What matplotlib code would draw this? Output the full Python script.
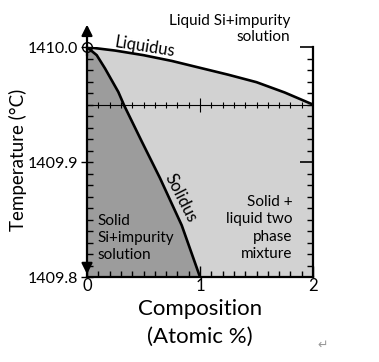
import matplotlib
matplotlib.use("Agg")
import matplotlib.pyplot as plt
import numpy as np

plt.rcParams['font.family'] = ['Lato', 'DejaVu Sans']

# liquidus and solidus
liq_x = [0.0, 0.25, 0.5, 0.75, 1.0, 1.25, 1.5, 1.75, 2.0]
liq_t = [1410.0, 1409.997, 1409.993, 1409.988, 1409.982, 1409.976, 1409.9695, 1409.9605, 1409.95]
sol_x = [0.0, 0.086, 0.159, 0.277, 0.33, 0.484, 0.646, 0.838, 1.0]
sol_t = [1410.0, 1409.993, 1409.9815, 1409.961, 1409.949, 1409.918, 1409.886, 1409.845, 1409.8]
x_ticks = [0, 1, 2]
y_ticks = [1409.8, 1409.9, 1410.0]
y_labels = ['1409.8', '1409.9', '1410.0']
mid_t = 1409.95

fig = plt.figure(figsize=(3.79, 3.62), dpi=100)
ax = fig.add_axes([0.2296, 0.2348, 0.5963, 0.635])
ax.set_xlim(0, 2)
ax.set_ylim(1409.8, 1410.0)

# regions
ax.fill_between(liq_x, liq_t, 1409.8, color='#d2d2d2', lw=0)
ax.fill_betweenx(sol_t, 0, sol_x, color='#9c9c9c', lw=0)
ax.plot(liq_x, liq_t, color='k', lw=1.9)
ax.plot(sol_x, sol_t, color='k', lw=1.9)

# middle guide line with cross ticks
ax.axhline(mid_t, color='k', lw=0.8)
minor_x = np.round(np.arange(0.1, 2.0, 0.1), 2)
ax.plot(minor_x[minor_x != 1.0], [mid_t] * 18, ls='none', marker='|', ms=4.5, mew=0.8, color='k')
ax.plot([1.0], [mid_t], ls='none', marker='|', ms=10, mew=0.8, color='k')

ax.plot([0], [1410.0], marker='o', ms=7, mfc='none', mec='k', mew=1, clip_on=False, zorder=5)

for s in ['top', 'right']:
    ax.spines[s].set_visible(False)
for s in ['left', 'bottom']:
    ax.spines[s].set_linewidth(1.6)

ax.set_xticks(x_ticks)
ax.set_xticks(np.arange(0, 2.01, 0.1), minor=True)
ax.set_yticks(y_ticks)
ax.set_yticklabels(y_labels)
ax.set_yticks(np.arange(1409.8, 1410.001, 0.01), minor=True)
ax.tick_params(axis='x', which='major', direction='in', length=8, width=1, labelsize=12, pad=1)
ax.tick_params(axis='x', which='minor', direction='in', length=4, width=1)
ax.tick_params(axis='y', which='major', direction='inout', length=9, width=1, labelsize=11.5, pad=2)
ax.tick_params(axis='y', which='minor', direction='in', length=4, width=1)

# right side axis
ax2 = ax.twinx()
ax2.set_ylim(1409.8, 1410.0)
for s in ['top', 'left', 'bottom']:
    ax2.spines[s].set_visible(False)
ax2.spines['right'].set_linewidth(1.6)
ax2.set_yticks(y_ticks)
ax2.set_yticks(np.arange(1409.8, 1410.001, 0.01), minor=True)
ax2.tick_params(axis='y', which='major', direction='in', length=9.5, width=1.2, labelright=False)
ax2.tick_params(axis='y', which='minor', direction='in', length=4, width=1)

# arrows on the temperature axis
ax.annotate('', xy=(0, 1.11), xytext=(0, 0.95), xycoords='axes fraction',
            arrowprops=dict(arrowstyle='-|>', lw=1.6, color='k', mutation_scale=16))
ax.annotate('', xy=(0, 0.0), xytext=(0, 0.06), xycoords='axes fraction',
            arrowprops=dict(arrowstyle='-|>', lw=1.6, color='k', mutation_scale=16))

# labels
ax.text(0.255, 1.0, 'Liquidus', transform=ax.transAxes, rotation=-9,
        ha='center', va='center', fontsize=12)
ax.text(0.415, 0.345, 'Solidus', transform=ax.transAxes, rotation=-63,
        ha='center', va='center', fontsize=12)
ax.text(0.898, 1.145, 'Liquid Si+impurity\nsolution', transform=ax.transAxes,
        ha='right', va='top', fontsize=11, linespacing=1.2)
ax.text(0.91, 0.213, 'Solid +\nliquid two\nphase\nmixture', transform=ax.transAxes,
        ha='right', va='center', fontsize=11, linespacing=1.3)
ax.text(0.045, 0.17, 'Solid\nSi+impurity\nsolution', transform=ax.transAxes,
        ha='left', va='center', fontsize=11, linespacing=1.3)

fig.text(18 / 379, (362 - 160) / 362, 'Temperature (\u00b0C)', rotation=90,
         ha='center', va='center', fontsize=13.5)
fig.text(200 / 379, (362 - 309) / 362, 'Composition', ha='center', va='center', fontsize=16)
fig.text(200 / 379, (362 - 337) / 362, '(Atomic %)', ha='center', va='center', fontsize=16)
fig.text(323 / 379, (362 - 345) / 362, '\u21b5', ha='center', va='center', fontsize=9,
         color='#999999', family='DejaVu Sans')

fig.savefig('out.png', dpi=100)
